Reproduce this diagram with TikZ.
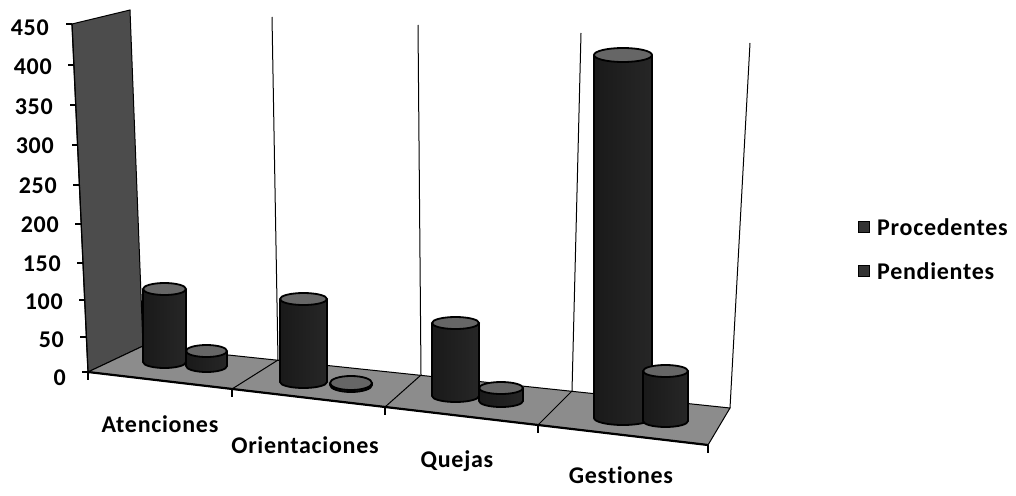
\documentclass[tikz,border=0pt]{standalone}
\usepackage{fontspec}
\setmainfont{Carlito}[Ligatures={NoCommon,NoDiscretionary,NoContextual}, LetterSpace=3]
\usetikzlibrary{calc}
\newcommand\drawcyl[5]{%
  \pgfmathsetmacro\cylcx{(#1+#2)/2}%
  \pgfmathsetmacro\cylrx{(#2-#1)/2}%
  \shade[cylbody] (#1,#3) rectangle (#2,#4) (\cylcx,#4) ellipse [x radius=\cylrx pt, y radius=#5 pt];
  \draw[cyledge] (#1,#3) -- (#1,#4) arc[start angle=180,end angle=360,x radius=\cylrx pt,y radius=#5 pt] -- (#2,#3);
  \draw[cyltop] (\cylcx,#3) ellipse [x radius=\cylrx pt, y radius=#5 pt];
}
\begin{document}
\begin{tikzpicture}[x=1pt,y=-1pt,
  txt/.style={font=\fontsize{24}{24}\selectfont\bfseries, inner sep=0pt},
  num/.style={txt, anchor=east},
  cat/.style={txt, anchor=base},
  leg/.style={txt, anchor=west},
  cylbody/.style={left color=black!90, middle color=black!45, right color=black!85},
  cyledge/.style={draw=black, line width=1.8pt},
  cyltop/.style={draw=black, line width=1.8pt, fill=black!60},
  wall/.style={fill=black!70, draw=black, line width=1pt},
  floorp/.style={fill=black!45, draw=black, line width=1pt},
  grid/.style={draw=black, line width=1pt},
  tick/.style={draw=black, line width=1.2pt},
  legbox/.style={fill=black!80, draw=black, line width=0.8pt}
]
\useasboundingbox (0,0) rectangle (1016,495);

% side wall and floor
\fill[wall] (72,24) -- (130,10) -- (143,346) -- (88,372) -- cycle;
\draw[floorp] (88,372) -- (143,346) -- (730,408) -- (708,445) -- cycle;
\draw[line width=2.2pt] (88,372) -- (708,445);

% back grid lines
\draw[grid] (272,17) -- (278,360);
\draw[grid] (418,25) -- (421,375);
\draw[grid] (581,33) -- (572,391);
\draw[grid] (750,43) -- (730,408);

% floor dividers
\draw[grid] (278,360) -- (232,389);
\draw[grid] (421,375) -- (385,407);
\draw[grid] (572,391) -- (538,425);

% axis and ticks
\draw[tick] (72,24) -- (88,372);
\foreach \yy in {24,65,105,145,185,224,263,300,337,372}{
  \pgfmathsetmacro\xx{72+(\yy-24)*16/348}
  \draw[tick] (\xx,\yy) -- ++(-6,0);
}
\foreach \xx/\yy in {88/372,232/389,385/407,538/425,708/445}{
  \draw[tick] (\xx,\yy) -- ++(0,8);
}

% value labels
\node[num] (v450) at (49,28) {450};
\node[num] (v400) at (52,67) {400};
\node[num] (v350) at (53,107) {350};
\node[num] (v300) at (54,146) {300};
\node[num] (v250) at (57,186) {250};
\node[num] (v200) at (59,225) {200};
\node[num] (v150) at (61,264) {150};
\node[num] (v100) at (63,302) {100};
\node[num] (v50) at (64,340) {50};
\node[num] (v0) at (66,378) {0};

% cylinders: xl, xr, top centre y, bottom centre y, y radius
\drawcyl{143}{186}{289}{362}{6}
\drawcyl{186}{227}{351}{366}{6}
\drawcyl{280}{327}{299}{382}{6}
\drawcyl{330}{372}{383}{385}{7}
\drawcyl{432}{479}{323}{396}{6}
\drawcyl{479}{523}{388}{401}{6}
\drawcyl{594}{652}{55}{418}{7}
\drawcyl{643}{688}{371}{421}{6}

% category labels
\node[cat] (catA) at (160,432) {Atenciones};
\node[cat] (catO) at (305,453) {Orientaciones};
\node[cat] (catQ) at (457,467) {Quejas};
\node[cat] (catG) at (621,483) {Gestiones};

% legend
\fill[legbox] (858,221) rectangle (869,232);
\node[leg] (lp) at (877,227) {Procedentes};
\fill[legbox] (858,265) rectangle (869,276);
\node[leg] (ln) at (877,271) {Pendientes};
\end{tikzpicture}
\end{document}
